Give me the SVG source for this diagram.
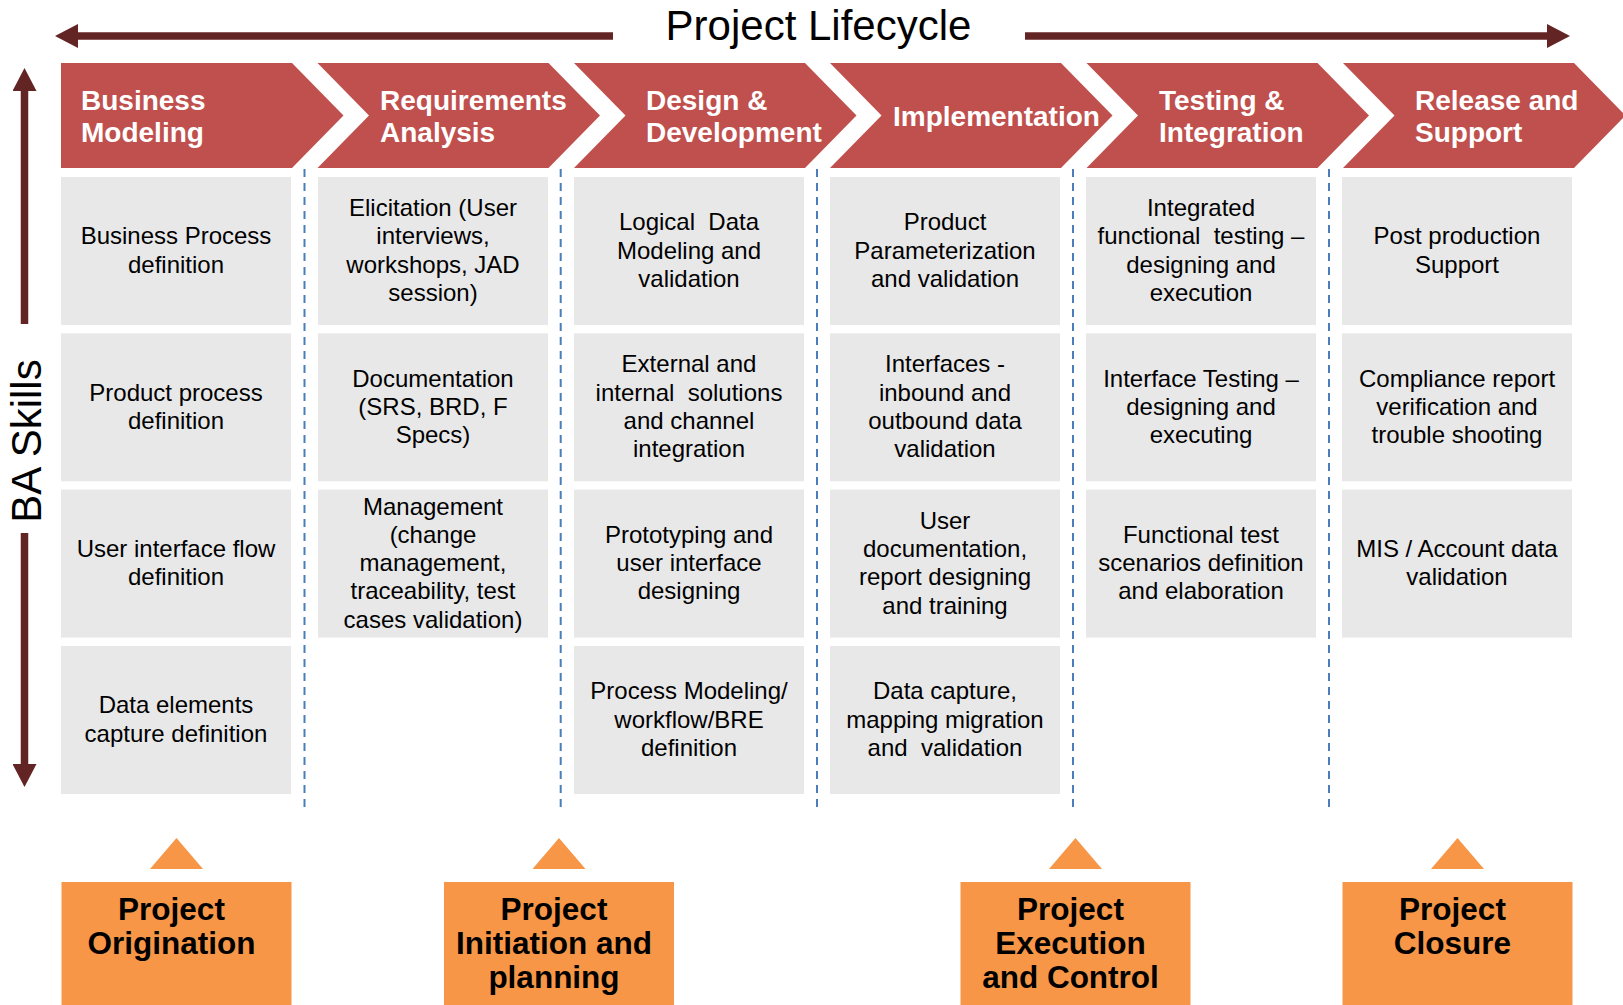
<svg xmlns="http://www.w3.org/2000/svg" width="1623" height="1005" viewBox="0 0 1623 1005" xml:space="preserve">
<defs>
<style>
.chev{fill:#C0504D}
.ct{font-family:"Liberation Sans",Arial,sans-serif;font-weight:bold;font-size:28px;fill:#ffffff}
.box{fill:#E8E8E8}
.bt{font-family:"Liberation Sans",Arial,sans-serif;font-size:24px;fill:#000000;text-anchor:middle;white-space:pre}
.ph{fill:#F79646}
.pt{font-family:"Liberation Sans",Arial,sans-serif;font-weight:bold;font-size:31.5px;fill:#000000;text-anchor:middle}
.arr{stroke:#632523;stroke-width:7.5;fill:none;marker-end:url(#ah)}
.dash{stroke:#4A7EBB;stroke-width:2;stroke-dasharray:8 6;fill:none}
.title{font-family:"Liberation Sans",Arial,sans-serif;font-size:42px;fill:#000000;text-anchor:middle}
</style>
<marker id="ah" viewBox="0 0 23 24" refX="0" refY="12" markerWidth="23" markerHeight="24" markerUnits="userSpaceOnUse" orient="auto"><path d="M0,0 L23,12 L0,24 Z" fill="#632523"/></marker>
</defs>
<rect width="1623" height="1005" fill="#ffffff"/>
<g id="connectors">
<path class="arr" d="M613,36 H78"/>
<path class="arr" d="M1025,36 H1547"/>
<path class="arr" d="M24.5,324 V91"/>
<path class="arr" d="M24.5,533 V764"/>
<path class="dash" d="M304.5,169 V807"/>
<path class="dash" d="M560.7,169 V807"/>
<path class="dash" d="M817,169 V807"/>
<path class="dash" d="M1073,169 V807"/>
<path class="dash" d="M1329,169 V807"/>
</g>
<g id="title"><text class="title" x="818.5" y="40">Project Lifecycle</text></g>
<g id="ba-skills"><text class="title" transform="translate(41,441) rotate(-90)" font-size="41">BA Skills</text></g>
<g id="phase-business-modeling">
<path class="chev" d="M61,63 L292,63 L343.5,115.5 L292,168 L61,168 Z"/>
<text class="ct" x="81" y="109.5">Business</text><text class="ct" x="81" y="142">Modeling</text>
</g>
<g id="phase-requirements">
<path class="chev" d="M317.5,63 L548.5,63 L600,115.5 L548.5,168 L317.5,168 L369,115.5 Z"/>
<text class="ct" x="380" y="109.5">Requirements</text><text class="ct" x="380" y="142">Analysis</text>
</g>
<g id="phase-design">
<path class="chev" d="M574,63 L805,63 L856.5,115.5 L805,168 L574,168 L625.5,115.5 Z"/>
<text class="ct" x="646" y="109.5">Design &amp;</text><text class="ct" x="646" y="142">Development</text>
</g>
<g id="phase-implementation">
<path class="chev" d="M830,63 L1061,63 L1112.5,115.5 L1061,168 L830,168 L881.5,115.5 Z"/>
<text class="ct" x="893" y="126">Implementation</text>
</g>
<g id="phase-testing">
<path class="chev" d="M1086.5,63 L1317.5,63 L1369,115.5 L1317.5,168 L1086.5,168 L1138,115.5 Z"/>
<text class="ct" x="1159" y="109.5">Testing &amp;</text><text class="ct" x="1159" y="142">Integration</text>
</g>
<g id="phase-release">
<path class="chev" d="M1343,63 L1574,63 L1625.5,115.5 L1574,168 L1343,168 L1394.5,115.5 Z"/>
<text class="ct" x="1415" y="109.5">Release and</text><text class="ct" x="1415" y="142">Support</text>
</g>
<g id="c1r1"><rect class="box" x="61" y="177" width="230" height="148"/><text class="bt" x="176" y="244.3">Business Process</text><text class="bt" x="176" y="272.6">definition</text></g>
<g id="c1r2"><rect class="box" x="61" y="333.3" width="230" height="148"/><text class="bt" x="176" y="400.6">Product process</text><text class="bt" x="176" y="428.9">definition</text></g>
<g id="c1r3"><rect class="box" x="61" y="489.6" width="230" height="148"/><text class="bt" x="176" y="556.9">User interface flow</text><text class="bt" x="176" y="585.2">definition</text></g>
<g id="c1r4"><rect class="box" x="61" y="646" width="230" height="148"/><text class="bt" x="176" y="713.3">Data elements</text><text class="bt" x="176" y="741.6">capture definition</text></g>
<g id="c2r1"><rect class="box" x="318" y="177" width="230" height="148"/><text class="bt" x="433" y="216.1">Elicitation (User</text><text class="bt" x="433" y="244.4">interviews,</text><text class="bt" x="433" y="272.7">workshops, JAD</text><text class="bt" x="433" y="301">session)</text></g>
<g id="c2r2"><rect class="box" x="318" y="333.3" width="230" height="148"/><text class="bt" x="433" y="386.5">Documentation</text><text class="bt" x="433" y="414.8">(SRS, BRD, F</text><text class="bt" x="433" y="443.1">Specs)</text></g>
<g id="c2r3"><rect class="box" x="318" y="489.6" width="230" height="148"/><text class="bt" x="433" y="514.5">Management</text><text class="bt" x="433" y="542.8">(change</text><text class="bt" x="433" y="571.1">management,</text><text class="bt" x="433" y="599.4">traceability, test</text><text class="bt" x="433" y="627.7">cases validation)</text></g>
<g id="c3r1"><rect class="box" x="574" y="177" width="230" height="148"/><text class="bt" x="689" y="230.2">Logical &#160;Data</text><text class="bt" x="689" y="258.5">Modeling and</text><text class="bt" x="689" y="286.8">validation</text></g>
<g id="c3r2"><rect class="box" x="574" y="333.3" width="230" height="148"/><text class="bt" x="689" y="372.4">External and</text><text class="bt" x="689" y="400.7">internal &#160;solutions</text><text class="bt" x="689" y="429">and channel</text><text class="bt" x="689" y="457.3">integration</text></g>
<g id="c3r3"><rect class="box" x="574" y="489.6" width="230" height="148"/><text class="bt" x="689" y="542.8">Prototyping and</text><text class="bt" x="689" y="571.1">user interface</text><text class="bt" x="689" y="599.4">designing</text></g>
<g id="c3r4"><rect class="box" x="574" y="646" width="230" height="148"/><text class="bt" x="689" y="699.2">Process Modeling/</text><text class="bt" x="689" y="727.5">workflow/BRE</text><text class="bt" x="689" y="755.8">definition</text></g>
<g id="c4r1"><rect class="box" x="830" y="177" width="230" height="148"/><text class="bt" x="945" y="230.2">Product</text><text class="bt" x="945" y="258.5">Parameterization</text><text class="bt" x="945" y="286.8">and validation</text></g>
<g id="c4r2"><rect class="box" x="830" y="333.3" width="230" height="148"/><text class="bt" x="945" y="372.4">Interfaces -</text><text class="bt" x="945" y="400.7">inbound and</text><text class="bt" x="945" y="429">outbound data</text><text class="bt" x="945" y="457.3">validation</text></g>
<g id="c4r3"><rect class="box" x="830" y="489.6" width="230" height="148"/><text class="bt" x="945" y="528.7">User</text><text class="bt" x="945" y="557">documentation,</text><text class="bt" x="945" y="585.3">report designing</text><text class="bt" x="945" y="613.6">and training</text></g>
<g id="c4r4"><rect class="box" x="830" y="646" width="230" height="148"/><text class="bt" x="945" y="699.2">Data capture,</text><text class="bt" x="945" y="727.5">mapping migration</text><text class="bt" x="945" y="755.8">and &#160;validation</text></g>
<g id="c5r1"><rect class="box" x="1086" y="177" width="230" height="148"/><text class="bt" x="1201" y="216.1">Integrated</text><text class="bt" x="1201" y="244.4">functional &#160;testing –</text><text class="bt" x="1201" y="272.7">designing and</text><text class="bt" x="1201" y="301">execution</text></g>
<g id="c5r2"><rect class="box" x="1086" y="333.3" width="230" height="148"/><text class="bt" x="1201" y="386.5">Interface Testing –</text><text class="bt" x="1201" y="414.8">designing and</text><text class="bt" x="1201" y="443.1">executing</text></g>
<g id="c5r3"><rect class="box" x="1086" y="489.6" width="230" height="148"/><text class="bt" x="1201" y="542.8">Functional test</text><text class="bt" x="1201" y="571.1">scenarios definition</text><text class="bt" x="1201" y="599.4">and elaboration</text></g>
<g id="c6r1"><rect class="box" x="1342" y="177" width="230" height="148"/><text class="bt" x="1457" y="244.3">Post production</text><text class="bt" x="1457" y="272.6">Support</text></g>
<g id="c6r2"><rect class="box" x="1342" y="333.3" width="230" height="148"/><text class="bt" x="1457" y="386.5">Compliance report</text><text class="bt" x="1457" y="414.8">verification and</text><text class="bt" x="1457" y="443.1">trouble shooting</text></g>
<g id="c6r3"><rect class="box" x="1342" y="489.6" width="230" height="148"/><text class="bt" x="1457" y="556.9">MIS / Account data</text><text class="bt" x="1457" y="585.2">validation</text></g>
<g id="project-origination"><polygon class="ph" points="176.5,838 150,869 203,869"/><rect class="ph" x="61.5" y="882" width="230" height="123"/><text class="pt" x="171.5" y="919.5">Project</text><text class="pt" x="171.5" y="953.5">Origination</text></g>
<g id="project-initiation"><polygon class="ph" points="559,838 532.5,869 585.5,869"/><rect class="ph" x="444" y="882" width="230" height="123"/><text class="pt" x="554" y="919.5">Project</text><text class="pt" x="554" y="953.5">Initiation and</text><text class="pt" x="554" y="987.5">planning</text></g>
<g id="project-execution"><polygon class="ph" points="1075.5,838 1049,869 1102,869"/><rect class="ph" x="960.5" y="882" width="230" height="123"/><text class="pt" x="1070.5" y="919.5">Project</text><text class="pt" x="1070.5" y="953.5">Execution</text><text class="pt" x="1070.5" y="987.5">and Control</text></g>
<g id="project-closure"><polygon class="ph" points="1457.5,838 1431,869 1484,869"/><rect class="ph" x="1342.5" y="882" width="230" height="123"/><text class="pt" x="1452.5" y="919.5">Project</text><text class="pt" x="1452.5" y="953.5">Closure</text></g>
</svg>
